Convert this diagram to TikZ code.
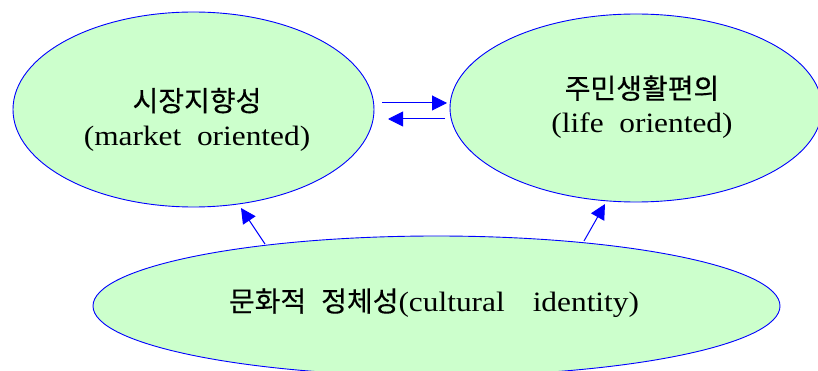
\documentclass[tikz,border=0pt]{standalone}
\usepackage{fontspec}
\setmainfont{Liberation Serif}[FakeStretch=1.12]
\newfontfamily\kor{Noto Sans CJK KR}[FakeBold=0.3]
\usetikzlibrary{shapes,arrows.meta}

\definecolor{lightgreen}{HTML}{CCFFCC}

\tikzset{
  bubble/.style={ellipse,draw=blue,fill=lightgreen,line width=0.9pt,inner sep=0pt},
  link/.style={draw=blue,line width=1pt,-{Triangle[length=15pt,width=15pt]}}
}

\begin{document}
\begin{tikzpicture}[x=1pt,y=-1pt,inner sep=0pt,font=\fontsize{28}{34}\selectfont]
\useasboundingbox (0,0) rectangle (818,371);

\node[bubble,minimum width=361pt,minimum height=195pt] (market) at (193.5,109.5) {}; %lewa
\node[bubble,minimum width=372pt,minimum height=188pt] (life) at (636,108) {}; %prawa
\node[bubble,minimum width=687pt,minimum height=140pt] (culture) at (436.5,306) {}; %dol

\node[align=center] (markettxt) at (197,119.5) {{\kor 시장지향성}\\(market~~oriented)};
\node[align=center] (lifetxt) at (642,107) {{\kor 주민생활편의}\\(life~~oriented)};
\node (culturetxt) at (434,303) {{\kor 문화적}\hspace{15pt}{\kor 정체성}(cultural\hspace{28pt}identity)};

\coordinate (a1) at (382,103); %gora od lewej
\coordinate (a2) at (447,103);
\coordinate (a3) at (445,119); %dol od prawej
\coordinate (a4) at (388,119);
\coordinate (a5) at (265,244); %w gore lewo
\coordinate (a6) at (241,208);
\coordinate (a7) at (584,241); %w gore prawo
\coordinate (a8) at (605,204);

\draw[link] (a1) -- (a2);
\draw[link] (a3) -- (a4);
\draw[link] (a5) -- (a6);
\draw[link] (a7) -- (a8);
\end{tikzpicture}
\end{document}
